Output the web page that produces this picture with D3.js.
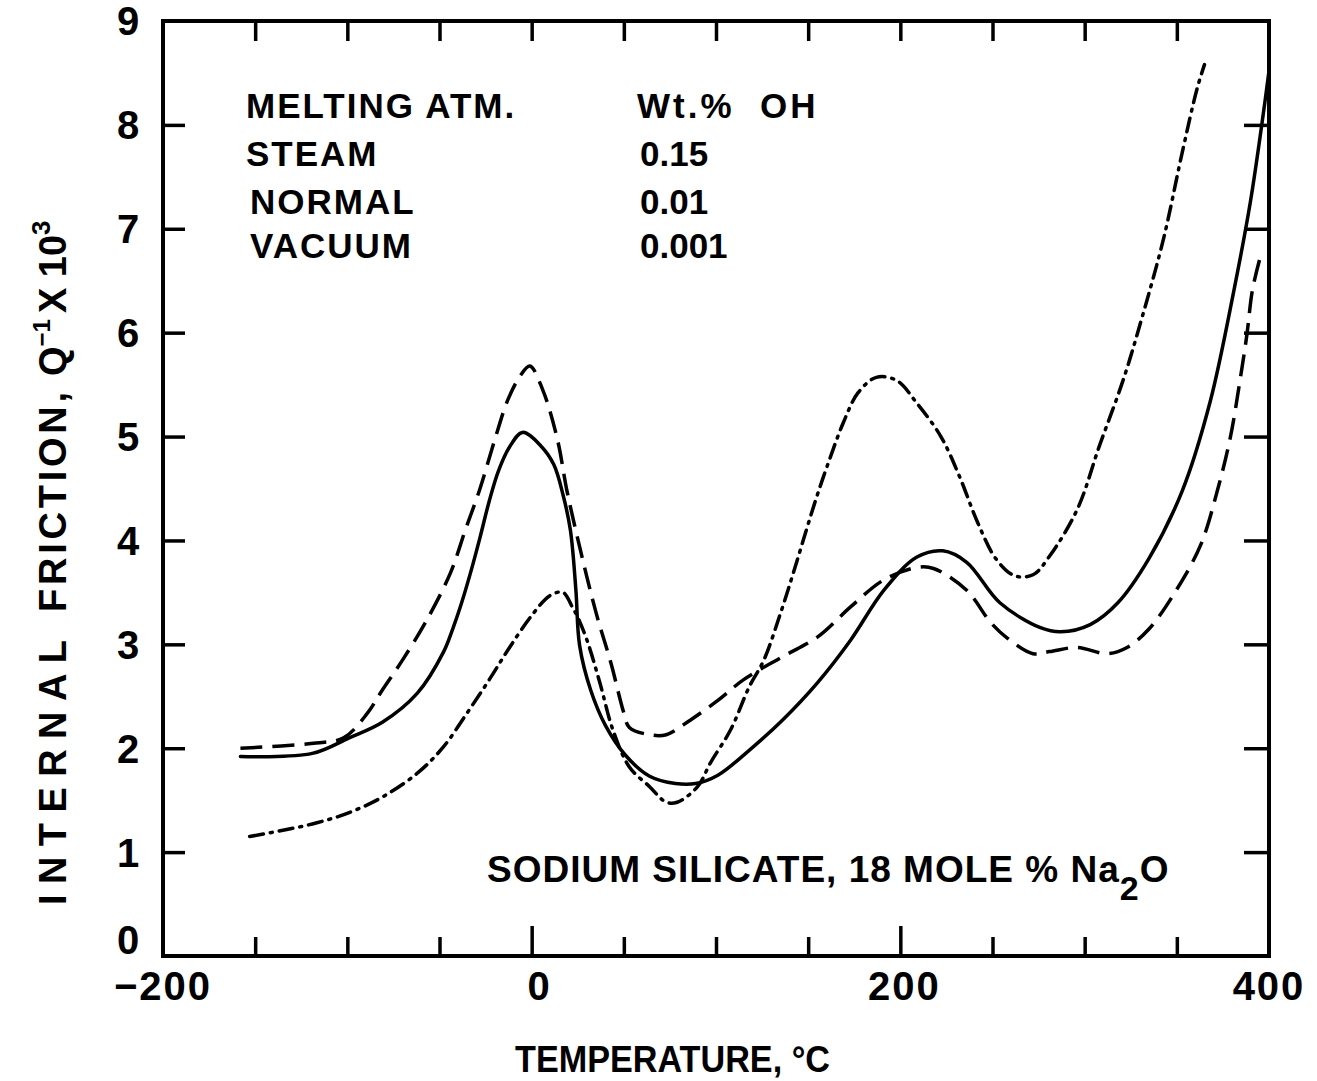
<!DOCTYPE html>
<html lang="en">
  <head>
    <meta charset="utf-8" />
    <title>Internal friction - sodium silicate</title>
    <script src="https://d3js.org/d3.v7.min.js"></script>
    <style type="text/css">
      body {
        margin: 0;
        background: #fff;
      }
      text {
        font-family: "Liberation Sans", Arial, sans-serif;
        font-weight: bold;
        fill: #000;
      }
      .tick line {
        stroke: #000;
        stroke-width: 3.5;
      }
      .curve {
        fill: none;
        stroke: #000;
        stroke-width: 3.5;
        stroke-linecap: round;
      }
    </style>
  </head>
  <body>
    <script type="text/javascript">
      // Q^-1 x 10^3 vs temperature (deg C)
      var solidT = [-158, -119, -99, -81, -62, -48, -43, -38, -33, -28, -23, -18, -12, -5, 5, 12, 17, 21, 24, 26, 32, 40, 51,
        64, 78, 89, 101, 118, 136, 155, 173, 191, 209, 223, 236, 254, 276, 287, 303, 318, 335, 353, 368,
        381, 390, 397, 400];
      var solidQ = [1.92, 1.95, 2.1, 2.25, 2.53, 2.92, 3.14, 3.4, 3.7, 4.03, 4.38, 4.67, 4.9, 5.04, 4.91, 4.73, 4.44, 4.1, 3.52, 2.99, 2.56, 2.22, 1.93,
        1.73, 1.66, 1.66, 1.74, 1.98, 2.27, 2.63, 3.04, 3.52, 3.84, 3.9, 3.79, 3.4, 3.16, 3.12, 3.19, 3.4, 3.83, 4.48, 5.33,
        6.41, 7.27, 8.12, 8.52];

      var dashT = [-158, -117, -102, -89, -81, -70, -57, -44, -36, -28, -20, -13, -6, -1, 6, 14, 19, 26, 35, 43, 50,
        53, 64, 73, 86, 101, 115, 136, 155, 173, 191, 209, 218, 236, 249, 258, 272, 281, 296, 312, 323,
        335, 350, 363, 372, 379, 384, 388, 391, 395];
      var dashQ = [2.0, 2.05, 2.1, 2.34, 2.56, 2.85, 3.23, 3.69, 4.1, 4.5, 4.97, 5.35, 5.59, 5.68, 5.45, 4.97, 4.49, 3.94, 3.3, 2.82, 2.34,
        2.2, 2.13, 2.13, 2.27, 2.46, 2.66, 2.88, 3.07, 3.36, 3.62, 3.74, 3.73, 3.52, 3.21, 3.06, 2.91, 2.93, 2.97, 2.91, 2.97,
        3.15, 3.53, 3.96, 4.48, 4.99, 5.51, 5.98, 6.41, 6.71];

      var dashDotT = [-153, -135, -117, -99, -81, -62, -48, -35, -23, -12, 1, 10, 17, 22, 25, 30, 37, 44, 53, 64,
        73, 79, 90, 97, 108, 118, 126, 135, 142, 149, 155, 162, 169, 177, 187, 198, 209, 222, 232, 242,
        252, 262, 272, 281, 296, 308, 321, 332, 343, 353, 361, 365];
      var dashDotQ = [1.15, 1.21, 1.28, 1.38, 1.53, 1.76, 2.01, 2.34, 2.66, 2.97, 3.3, 3.47, 3.5, 3.36, 3.26, 3.04, 2.63, 2.18, 1.82, 1.63,
        1.48, 1.48, 1.63, 1.86, 2.18, 2.59, 2.85, 3.3, 3.69, 4.1, 4.44, 4.8, 5.13, 5.42, 5.57, 5.54, 5.32, 5.0, 4.62, 4.17,
        3.82, 3.66, 3.67, 3.85, 4.3, 4.91, 5.55, 6.2, 6.92, 7.74, 8.35, 8.58];

      // legend table
      var atmospheres = ["STEAM", "NORMAL", "VACUUM"];
      var ohContent = ["0.15", "0.01", "0.001"];

      // ticks and labels
      var xTickLabels = [-200, 0, 200, 400];
      var xMinorTicks = [-150, -100, -50, 0, 50, 100, 150, 200, 250, 300, 350];
      var xMajorTicks = [0, 200];
      var yTickLabels = [0, 1, 2, 3, 4, 5, 6, 7, 8, 9];
      var yInnerTicks = [1, 2, 3, 4, 5, 6, 7, 8];

      var W = 1317,
        H = 1081;

      var x = d3.scaleLinear().domain([-200, 400]).range([163, 1269]);
      var y = d3.scaleLinear().domain([0, 9]).range([956, 21]);

      var svg = d3
        .select("body")
        .append("svg")
        .attr("width", W)
        .attr("height", H);

      // inward ticks on all four sides
      var gl = svg
        .append("g")
        .attr("transform", "translate(" + x(-200) + ",0)")
        .call(d3.axisLeft(y).tickValues(yInnerTicks).tickSize(-22).tickFormat(""));
      var gr = svg
        .append("g")
        .attr("transform", "translate(" + x(400) + ",0)")
        .call(d3.axisRight(y).tickValues(yInnerTicks).tickSize(-25).tickFormat(""));
      var gt = svg
        .append("g")
        .attr("transform", "translate(0," + y(9) + ")")
        .call(d3.axisTop(x).tickValues(xMinorTicks).tickSize(-20).tickFormat(""));
      var gb = svg
        .append("g")
        .attr("transform", "translate(0," + y(0) + ")")
        .call(d3.axisBottom(x).tickValues(xMinorTicks).tickSize(-19).tickFormat(""));
      gb.selectAll(".tick line").attr("y2", function (d) {
        return xMajorTicks.indexOf(d) >= 0 ? -30 : -19;
      });
      [gl, gr, gt, gb].forEach(function (g) {
        g.select(".domain").remove();
      });

      // frame
      svg
        .append("rect")
        .attr("x", x(-200))
        .attr("y", y(9))
        .attr("width", x(400) - x(-200))
        .attr("height", y(0) - y(9))
        .attr("fill", "none")
        .attr("stroke", "#000")
        .attr("stroke-width", 4);

      // tick labels
      svg
        .selectAll(".ylab")
        .data(yTickLabels)
        .enter()
        .append("text")
        .attr("class", "ylab")
        .attr("x", 128)
        .attr("y", function (d) {
          return d === 0 ? y(0) - 16 : y(d);
        })
        .attr("dy", "0.36em")
        .attr("text-anchor", "middle")
        .style("font-size", "40px")
        .text(function (d) {
          return d;
        });

      svg
        .selectAll(".xlab")
        .data(xTickLabels)
        .enter()
        .append("text")
        .attr("class", "xlab")
        .attr("x", function (d) {
          return d === 0 ? x(d) + 8 : x(d) + (d === 200 ? 4 : 0);
        })
        .attr("y", 1000)
        .attr("text-anchor", "middle")
        .style("font-size", "40px")
        .style("letter-spacing", "2px")
        .text(function (d) {
          return d < 0 ? "\u2212" + Math.abs(d) : d;
        });

      // axis titles
      svg
        .append("text")
        .attr("x", 515)
        .attr("y", 1072)
        .attr("textLength", 315)
        .attr("lengthAdjust", "spacingAndGlyphs")
        .style("font-size", "36px")
        .text("TEMPERATURE, \u00b0C");

      var yt = svg.append("g").attr("transform", "translate(66,0) rotate(-90)");
      yt.append("text")
        .attr("x", -905)
        .attr("y", 0)
        .attr("textLength", 265)
        .attr("lengthAdjust", "spacing")
        .style("font-size", "38px")
        .text("INTERNAL");
      yt.append("text")
        .attr("x", -612)
        .attr("y", 0)
        .attr("textLength", 220)
        .attr("lengthAdjust", "spacing")
        .style("font-size", "38px")
        .text("FRICTION,");
      var q = yt
        .append("text")
        .attr("x", -376)
        .attr("y", 0)
        .style("font-size", "38px");
      q.append("tspan").text("Q");
      q.append("tspan").attr("dy", -16).style("font-size", "24px").text("\u22121");
      q.append("tspan").attr("dy", 16).attr("dx", 6).text("X 10");
      q.append("tspan").attr("dy", -16).style("font-size", "26px").text("3");

      // legend table
      var legendRows = ["MELTING ATM."].concat(atmospheres);
      var legendVals = ["Wt.%  OH"].concat(ohContent);
      var rowY = [118, 166, 214, 258];
      svg
        .selectAll(".leg1")
        .data(legendRows)
        .enter()
        .append("text")
        .attr("x", function (d, i) {
          return i < 2 ? 246 : 250;
        })
        .attr("y", function (d, i) {
          return rowY[i];
        })
        .style("font-size", "35px")
        .style("letter-spacing", "2px")
        .text(function (d) {
          return d;
        });
      svg
        .selectAll(".leg2")
        .data(legendVals)
        .enter()
        .append("text")
        .attr("x", function (d, i) {
          return i === 0 ? 637 : 640;
        })
        .attr("y", function (d, i) {
          return rowY[i];
        })
        .style("font-size", "35px")
        .style("letter-spacing", function (d, i) {
          return i === 0 ? "3px" : "0px";
        })
        .attr("xml:space", "preserve")
        .text(function (d) {
          return d;
        });

      // sample note
      var note = svg
        .append("text")
        .attr("x", 487)
        .attr("y", 882)
        .style("font-size", "37px")
        .style("letter-spacing", "1px");
      note.append("tspan").text("SODIUM SILICATE, 18 MOLE % Na");
      note.append("tspan").attr("dy", 18).style("font-size", "34px").text("2");
      note.append("tspan").attr("dy", -18).text("O");

      // curves
      var line = d3
        .line()
        .x(function (d) {
          return x(d[0]);
        })
        .y(function (d) {
          return y(d[1]);
        })
        .curve(d3.curveCatmullRom.alpha(0.5));

      function pairs(t, v) {
        return t.map(function (d, i) {
          return [d, v[i]];
        });
      }

      svg.append("path").attr("class", "curve").attr("d", line(pairs(solidT, solidQ)));
      svg
        .append("path")
        .attr("class", "curve")
        .attr("stroke-dasharray", "22,10")
        .style("stroke-linecap", "butt")
        .attr("d", line(pairs(dashT, dashQ)));
      svg
        .append("path")
        .attr("class", "curve")
        .attr("stroke-dasharray", "14,7,2,7")
        .attr("d", line(pairs(dashDotT, dashDotQ)));
    </script>
  </body>
</html>
